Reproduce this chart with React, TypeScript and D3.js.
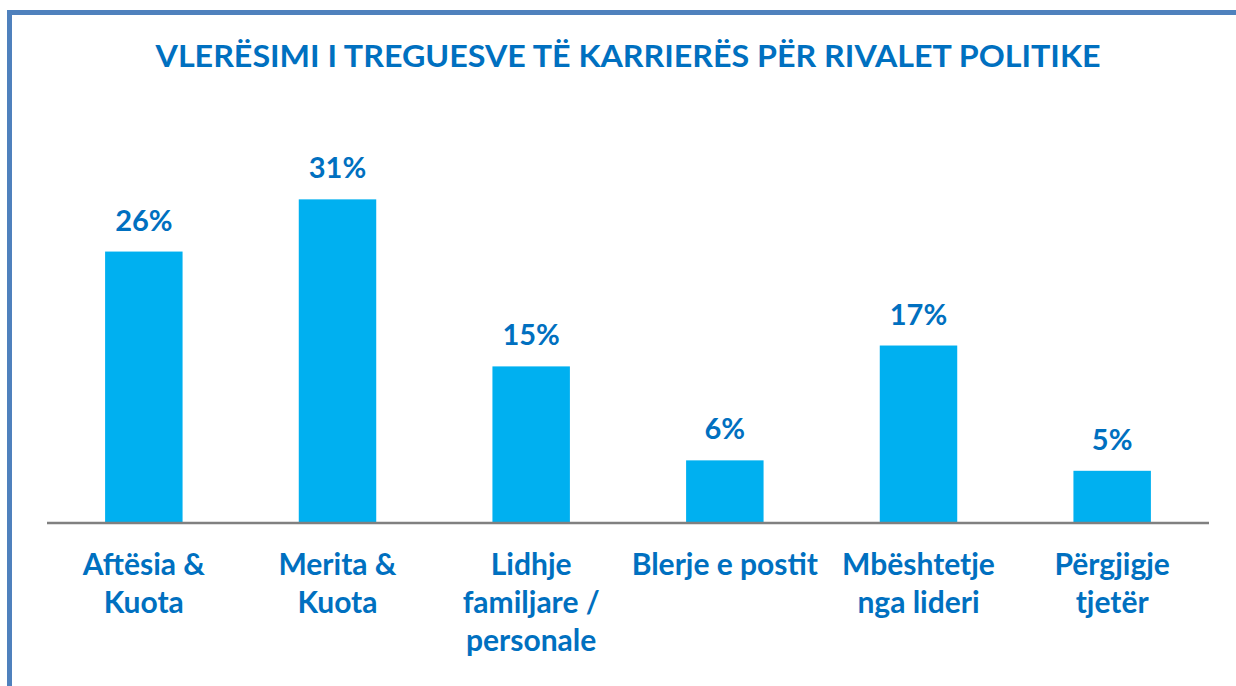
import React from "react";
import * as d3 from "d3";

const title = "VLERËSIMI I TREGUESVE TË KARRIERËS PËR RIVALET POLITIKE";
const categories = [
  "Aftësia & Kuota",
  "Merita & Kuota",
  "Lidhje familjare / personale",
  "Blerje e postit",
  "Mbështetje nga lideri",
  "Përgjigje tjetër",
];
const categoryLines = [
  ["Aftësia &", "Kuota"],
  ["Merita &", "Kuota"],
  ["Lidhje", "familjare /", "personale"],
  ["Blerje e postit"],
  ["Mbështetje", "nga lideri"],
  ["Përgjigje", "tjetër"],
];
const values = [26, 31, 15, 6, 17, 5];

const W = 1236;
const H = 686;
const FONT = "Lato, 'Open Sans', sans-serif";
const BLUE_TEXT = "#0070C0";
const BAR = "#00B0F0";

export default function App() {
  const x0 = 47, x1 = 1209, base = 523;
  const x = d3.scaleBand<string>().domain(categories).range([x0, x1]).paddingInner(0.6).paddingOuter(0.3);
  const y = d3.scaleLinear().domain([0, 35]).range([base, base - 35 * 10.44]);
  return (
    <svg width={W} height={H} style={{ position: "absolute", left: 0, top: 0 }}>
      <rect x={0} y={0} width={W} height={H} fill="#fff" />
      <path d={`M9.5,${H} L9.5,12.5 L${W},12.5`} fill="none" stroke="#4F81BD" strokeWidth={5} />
      <text x={628} y={67} textAnchor="middle" fontFamily={FONT} fontWeight={700} fontSize={30} fill={BLUE_TEXT}
        textLength={945} lengthAdjust="spacingAndGlyphs">
        {title}
      </text>
      {categories.map((c, i) => (
        <g key={c}>
          <rect x={x(c)} y={y(values[i])} width={x.bandwidth()} height={base - y(values[i])} fill={BAR} />
          <text
            x={(x(c) as number) + x.bandwidth() / 2}
            y={y(values[i]) - 21}
            textAnchor="middle"
            fontFamily={FONT}
            fontWeight={700}
            fontSize={29}
            fill={BLUE_TEXT}
          >
            {values[i]}%
          </text>
          {categoryLines[i].map((ln, j) => (
            <text
              key={j}
              x={(x(c) as number) + x.bandwidth() / 2}
              y={575 + j * 38}
              textAnchor="middle"
              fontFamily={FONT}
              fontWeight={700}
              fontSize={30}
              fill={BLUE_TEXT}
            >
              {ln}
            </text>
          ))}
        </g>
      ))}
      <line x1={x0} x2={x1} y1={base} y2={base} stroke="#808080" strokeWidth={2.5} />
    </svg>
  );
}
